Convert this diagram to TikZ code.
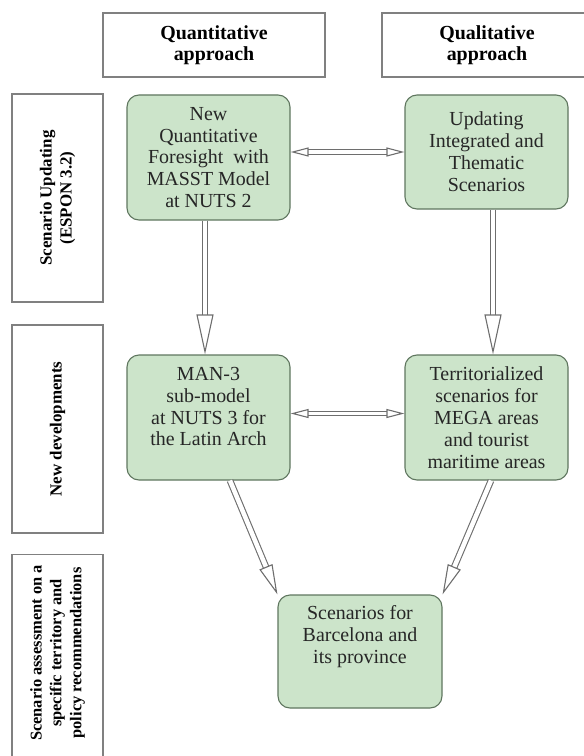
\documentclass[tikz,border=0pt]{standalone}
\usepackage{fontspec}
\setmainfont{Liberation Serif}
\usetikzlibrary{arrows.meta,positioning}
\definecolor{scengreen}{RGB}{204,228,202}
\definecolor{scenborder}{RGB}{95,118,95}
\definecolor{framegray}{RGB}{128,128,128}
\definecolor{flowgray}{RGB}{110,110,110}

\begin{document}
\begin{tikzpicture}[
    x=1bp, y=-1bp,
    header/.style={rectangle, draw=framegray, line width=1.1bp, fill=white, minimum height=64bp, align=center, font=\fontsize{20}{21.5}\selectfont\bfseries},
    phase/.style={rectangle, draw=framegray, line width=1.1bp, fill=white, rotate=90, minimum height=91bp, align=center, font=\fontsize{17}{20}\selectfont\bfseries},
    scen/.style={rectangle, rounded corners=12bp, draw=scenborder, line width=1.1bp, fill=scengreen, minimum width=163bp, align=center, text=black!85, font=\fontsize{20}{22}\selectfont},
    flow/.style={draw=flowgray, double=white, double distance=4.5bp, line width=1.1bp, -{Triangle[open, length=40bp, width=17bp]}},
    slant/.style={flow, -{Triangle[open, length=30bp, width=14bp]}},
    biflow/.style={flow, double distance=3.5bp, {Triangle[open, length=18bp, width=9bp]}-{Triangle[open, length=18bp, width=9bp]}},
]
\useasboundingbox (0,0) rectangle (584,756);
\clip (0,0) rectangle (584,756);

% Approach headers
\node[header, minimum width=222bp] (quanthead) at (214,45) {Quantitative\\approach};
\node[header, minimum width=210bp] (qualhead) at (487,45) {Qualitative\\approach};

% Phases
\node[phase, minimum width=208bp] (updating) at (57.5,198) {Scenario Updating\\(ESPON 3.2)};
\node[phase, minimum width=208bp] (newdev) at (57.5,429) {New developments};
\node[phase, minimum width=225bp, font=\fontsize{16.5}{20}\selectfont\bfseries, text depth=0pt] (assess) at (57.5,667) {};
\node[rotate=90, align=center, font=\fontsize{16.5}{20}\selectfont\bfseries] (assesstext) at (57.5,653) {Scenario assessment on a\\specific territory and\\policy recommendations};

% Scenario steps
\node[scen, minimum height=125bp] (newquant) at (208.5,157.5) {New\\Quantitative\\Foresight~ with\\MASST Model\\at NUTS 2};
\node[scen, minimum height=114bp] (updint) at (486.5,152) {Updating\\Integrated and\\Thematic\\Scenarios};
\node[scen, minimum height=125bp, text depth=22bp] (mansub) at (208.5,417.5) {MAN-3\\sub-model\\at NUTS 3 for\\the Latin Arch};
\node[scen, minimum height=125bp] (territ) at (486.5,417.5) {Territorialized\\scenarios for\\MEGA areas\\and tourist\\maritime areas};
\node[scen, minimum width=164bp, minimum height=113bp, text depth=34bp] (barcelona) at (360,651.5) {Scenarios for\\Barcelona and\\its province};

% Arrows
\draw[biflow] (newquant.east |- updint.west) -- (updint.west);
\draw[biflow] ([yshift=4bp]mansub.east) -- ([yshift=4bp]territ.west);
\draw[flow] ([xshift=-3.5bp]newquant.south) -- ([xshift=-3.5bp]mansub.north);
\draw[flow] ([xshift=6.5bp]updint.south) -- ([xshift=6.5bp]territ.north);
\draw[slant] ([xshift=21.5bp]mansub.south) -- (barcelona.north west);
\draw[slant] ([xshift=4.5bp]territ.south) -- (barcelona.north east);

\end{tikzpicture}
\end{document}
